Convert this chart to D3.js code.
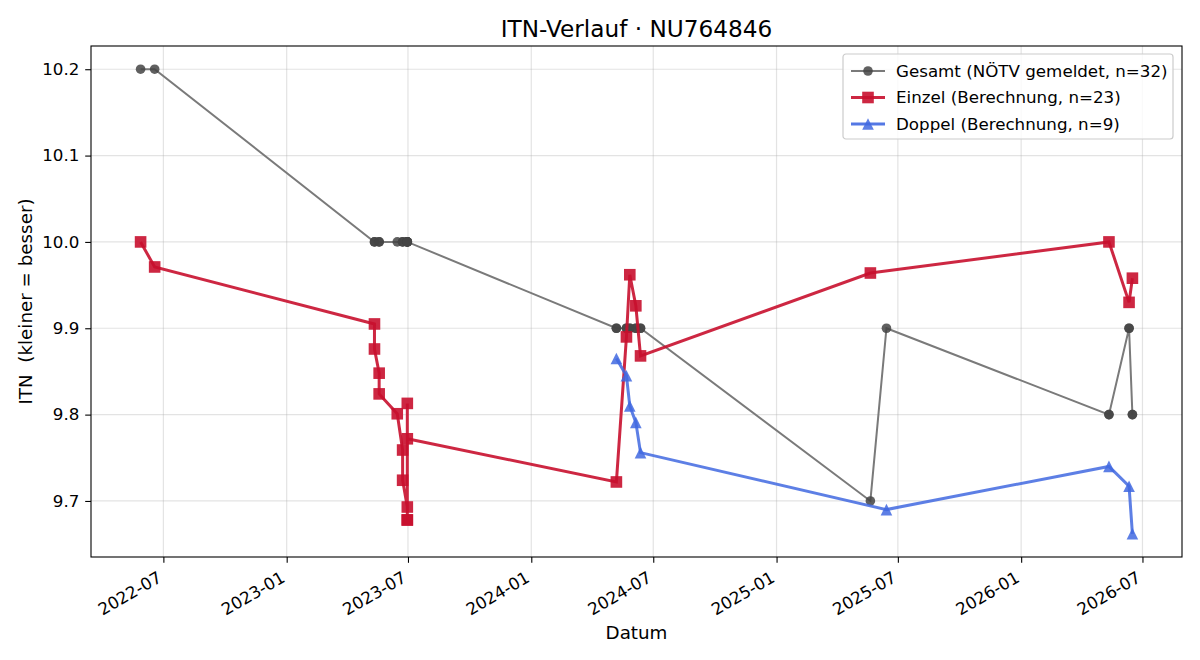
<!DOCTYPE html>
<html>
<head>
<meta charset="utf-8">
<script src="https://cdn.jsdelivr.net/npm/d3@7"></script>
<style>
  html, body { margin: 0; padding: 0; background: #fff; }
  svg { display: block; font-family: "DejaVu Sans", sans-serif; }
</style>
</head>
<body>
<svg id="chart" width="1200" height="660"></svg>
<script>
// ---- data ----
const titleText = "ITN-Verlauf · NU764846";
const xLabel = "Datum";
const yLabel = "ITN  (kleiner = besser)";
const seriesNames = ["Gesamt (NÖTV gemeldet, n=32)", "Einzel (Berechnung, n=23)", "Doppel (Berechnung, n=9)"];

const gesamtDates = ["2022-05-28","2022-06-18",
  "2023-05-12","2023-05-12","2023-05-19","2023-05-19","2023-06-15","2023-06-23","2023-06-23",
  "2023-06-30","2023-06-30","2023-06-30","2023-06-30","2023-06-30",
  "2024-05-07","2024-05-07","2024-05-22","2024-05-22","2024-05-27","2024-05-27",
  "2024-06-05","2024-06-05","2024-06-12","2024-06-12",
  "2025-05-21","2025-06-14",
  "2026-05-12","2026-05-12","2026-06-11","2026-06-11","2026-06-16","2026-06-16"];
const gesamtValues = [10.2,10.2,
  10.0,10.0,10.0,10.0,10.0,10.0,10.0,
  10.0,10.0,10.0,10.0,10.0,
  9.9,9.9,9.9,9.9,9.9,9.9,
  9.9,9.9,9.9,9.9,
  9.7,9.9,
  9.8,9.8,9.9,9.9,9.8,9.8];

const einzelDates = ["2022-05-28","2022-06-18",
  "2023-05-12","2023-05-12","2023-05-19","2023-05-19","2023-06-15","2023-06-23","2023-06-23",
  "2023-06-30","2023-06-30","2023-06-30","2023-06-30","2023-06-30",
  "2024-05-07","2024-05-22","2024-05-27","2024-06-05","2024-06-12",
  "2025-05-21",
  "2026-05-12","2026-06-11","2026-06-16"];
const einzelValues = [10.000,9.971,
  9.905,9.876,9.848,9.824,9.801,9.759,9.724,
  9.693,9.678,9.678,9.813,9.772,
  9.722,9.890,9.962,9.926,9.868,
  9.964,
  10.000,9.930,9.958];

const doppelDates = ["2024-05-07","2024-05-22","2024-05-27","2024-06-05","2024-06-12",
  "2025-06-14","2026-05-12","2026-06-11","2026-06-16"];
const doppelValues = [9.865,9.845,9.810,9.791,9.756,9.690,9.740,9.717,9.662];

const yTicks = [9.7, 9.8, 9.9, 10.0, 10.1, 10.2];

// ---- setup ----
const parse = d3.timeParse("%Y-%m-%d");
const mk = (ds, vs) => ds.map((d, i) => ({ date: parse(d), value: vs[i] }));
const gesamt = mk(gesamtDates, gesamtValues);
const einzel = mk(einzelDates, einzelValues);
const doppel = mk(doppelDates, doppelValues);
const all = gesamt.concat(einzel, doppel);

const W = 1200, H = 660;
const m = { left: 91, right: 18, top: 46, bottom: 103 };
const iw = W - m.left - m.right, ih = H - m.top - m.bottom;
const FS = 16.7;

const svg = d3.select("#chart");
const g = svg.append("g").attr("transform", `translate(${m.left},${m.top})`);

const xExt = d3.extent(all, d => +d.date);
const xPad = (xExt[1] - xExt[0]) * 0.05;
const x = d3.scaleTime().domain([new Date(xExt[0] - xPad), new Date(xExt[1] + xPad)]).range([0, iw]);
const yExt = d3.extent(all, d => d.value);
const yPad = (yExt[1] - yExt[0]) * 0.05;
const y = d3.scaleLinear().domain([yExt[0] - yPad, yExt[1] + yPad]).range([ih, 0]);

const xTicks = d3.timeMonth.every(6).range(x.domain()[0], x.domain()[1]);

// grid
g.append("g").selectAll("line").data(xTicks).join("line")
  .attr("x1", d => x(d)).attr("x2", d => x(d)).attr("y1", 0).attr("y2", ih)
  .attr("stroke", "#b0b0b0").attr("stroke-opacity", 0.35).attr("stroke-width", 1.2);
g.append("g").selectAll("line").data(yTicks).join("line")
  .attr("y1", d => y(d)).attr("y2", d => y(d)).attr("x1", 0).attr("x2", iw)
  .attr("stroke", "#b0b0b0").attr("stroke-opacity", 0.35).attr("stroke-width", 1.2);

// axes
const xAxis = g.append("g").attr("transform", `translate(0,${ih})`)
  .call(d3.axisBottom(x).tickValues(xTicks).tickFormat(d3.timeFormat("%Y-%m")).tickSize(5.8));
xAxis.select(".domain").remove();
xAxis.selectAll("line").attr("stroke", "#000").attr("stroke-width", 1.1);
xAxis.selectAll("text")
  .attr("font-size", FS + "px").attr("font-family", "DejaVu Sans").attr("fill", "#000")
  .attr("text-anchor", "end").attr("dy", null).attr("y", 0)
  .attr("transform", "translate(-1,24) rotate(-30)");

const yAxis = g.append("g")
  .call(d3.axisLeft(y).tickValues(yTicks).tickFormat(d3.format(".1f")).tickSize(5.8).tickPadding(5.8));
yAxis.select(".domain").remove();
yAxis.selectAll("line").attr("stroke", "#000").attr("stroke-width", 1.1);
yAxis.selectAll("text").attr("font-size", FS + "px").attr("font-family", "DejaVu Sans").attr("fill", "#000");

g.append("rect").attr("x", 0).attr("y", 0).attr("width", iw).attr("height", ih)
  .attr("fill", "none").attr("stroke", "#000").attr("stroke-width", 1.1);

// lines
const line = d3.line().x(d => x(d.date)).y(d => y(d.value));
const colors = { gesamt: "#7a7a7a", gesamtM: "#444444", einzel: "#c8102e", doppel: "#4169e1" };
const triPath = s => `M0,${-s/2}L${s/2},${s/2}L${-s/2},${s/2}Z`;

g.append("path").datum(gesamt).attr("d", line).attr("fill", "none")
  .attr("stroke", colors.gesamt).attr("stroke-width", 2);
g.append("g").selectAll("circle").data(gesamt).join("circle")
  .attr("cx", d => x(d.date)).attr("cy", d => y(d.value)).attr("r", 4.8)
  .attr("fill", colors.gesamtM).attr("fill-opacity", 0.85);

g.append("path").datum(einzel).attr("d", line).attr("fill", "none")
  .attr("stroke", colors.einzel).attr("stroke-opacity", 0.9).attr("stroke-width", 3);
g.append("g").selectAll("rect").data(einzel).join("rect")
  .attr("x", d => x(d.date) - 5.8).attr("y", d => y(d.value) - 5.8).attr("width", 11.6).attr("height", 11.6)
  .attr("fill", colors.einzel).attr("fill-opacity", 0.9);

g.append("path").datum(doppel).attr("d", line).attr("fill", "none")
  .attr("stroke", colors.doppel).attr("stroke-opacity", 0.85).attr("stroke-width", 3);
g.append("g").selectAll("path").data(doppel).join("path")
  .attr("d", triPath(11.6)).attr("transform", d => `translate(${x(d.date)},${y(d.value)})`)
  .attr("fill", colors.doppel).attr("fill-opacity", 0.85);

// labels
svg.append("text").attr("x", m.left + iw / 2).attr("y", 37).attr("text-anchor", "middle")
  .attr("font-size", "23.2px").attr("fill", "#000").text(titleText);
svg.append("text").attr("x", m.left + iw / 2).attr("y", 639).attr("text-anchor", "middle")
  .attr("font-size", "18.3px").attr("fill", "#000").text(xLabel);
svg.append("text").attr("transform", `translate(32,${m.top + ih / 2}) rotate(-90)`)
  .attr("text-anchor", "middle").attr("font-size", "18.3px").attr("fill", "#000")
  .style("white-space", "pre").text(yLabel);

// legend
const lg = svg.append("g").attr("transform", "translate(843,54)");
lg.append("rect").attr("width", 330).attr("height", 85).attr("rx", 3)
  .attr("fill", "#fff").attr("fill-opacity", 0.8).attr("stroke", "#cccccc").attr("stroke-width", 1.2);
const items = [
  { name: seriesNames[0], c: colors.gesamt, mc: colors.gesamtM, w: 2, shape: "circle" },
  { name: seriesNames[1], c: colors.einzel, mc: colors.einzel, w: 3, shape: "square" },
  { name: seriesNames[2], c: colors.doppel, mc: colors.doppel, w: 3, shape: "tri" }
];
items.forEach((it, i) => {
  const yy = 17 + i * 26.5;
  lg.append("line").attr("x1", 8).attr("x2", 42).attr("y1", yy).attr("y2", yy)
    .attr("stroke", it.c).attr("stroke-width", it.w).attr("stroke-opacity", i === 0 ? 1 : 0.9);
  if (it.shape === "circle") lg.append("circle").attr("cx", 25).attr("cy", yy).attr("r", 4.8).attr("fill", it.mc).attr("fill-opacity", 0.85);
  else if (it.shape === "square") lg.append("rect").attr("x", 19.2).attr("y", yy - 5.8).attr("width", 11.6).attr("height", 11.6).attr("fill", it.mc).attr("fill-opacity", 0.9);
  else lg.append("path").attr("d", triPath(11.6)).attr("transform", `translate(25,${yy})`).attr("fill", it.mc).attr("fill-opacity", 0.85);
  lg.append("text").attr("x", 53).attr("y", yy).attr("dy", "0.35em")
    .attr("font-size", FS + "px").attr("fill", "#000").text(it.name);
});
</script>
</body>
</html>
